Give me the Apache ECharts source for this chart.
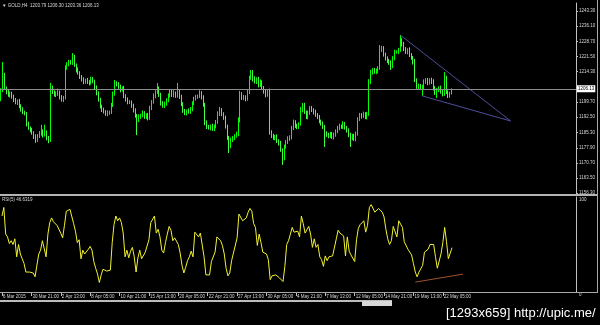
<!DOCTYPE html>
<html><head><meta charset="utf-8">
<script src="https://cdn.jsdelivr.net/npm/echarts@6/dist/echarts.min.js"></script>
<style>html,body{margin:0;padding:0;background:#000;}#c{width:600px;height:325px;}</style>
</head><body><div id="c"></div>
<script>
const symbolName = 'GOLD,H4';
const indicatorName = 'RSI(5)';

const opens = [1201.0,1205.5,1212.7,1206.5,1204.6,1203.2,1204.1,1202.2,1200.8,1199.3,
1200.3,1197.9,1196.0,1195.0,1194.1,1189.3,1187.4,1186.4,1185.0,1183.1,
1181.6,1183.6,1184.5,1185.9,1184.0,1185.5,1182.6,1181.6,1206.5,1204.6,
1203.2,1203.6,1204.6,1202.2,1200.8,1201.7,1216.1,1218.0,1218.9,1218.5,
1221.3,1217.5,1215.1,1213.7,1211.8,1210.3,1209.4,1210.3,1209.4,1208.9,
1210.8,1209.8,1206.5,1204.1,1200.8,1197.9,1196.0,1195.0,1194.1,1194.5,
1195.0,1198.4,1203.6,1208.9,1208.4,1207.0,1205.5,1206.5,1202.7,1200.8,
1199.8,1199.8,1197.9,1196.0,1193.1,1191.2,1192.6,1193.6,1194.5,1192.6,
1193.6,1192.2,1196.9,1199.8,1202.7,1204.6,1206.5,1203.2,1199.3,1197.9,
1198.9,1200.8,1202.7,1204.6,1203.2,1204.1,1202.7,1204.6,1202.2,1198.9,
1195.5,1194.5,1195.5,1195.0,1196.5,1199.3,1201.2,1202.2,1202.7,1204.1,
1202.2,1198.4,1189.8,1187.9,1187.4,1188.3,1186.9,1188.3,1190.2,1194.1,
1196.0,1194.1,1192.2,1188.3,1182.6,1178.8,1181.6,1182.6,1183.6,1184.5,
1191.2,1203.6,1201.7,1202.2,1201.2,1204.6,1211.3,1214.1,1210.8,1209.4,
1210.8,1207.9,1209.4,1206.5,1204.6,1203.2,1204.6,1185.5,1183.6,1182.6,
1183.1,1181.2,1180.2,1176.9,1173.0,1178.3,1180.7,1182.1,1183.1,1187.4,
1190.2,1188.3,1187.9,1189.3,1196.0,1198.4,1195.0,1192.6,1194.5,1196.9,
1196.0,1195.0,1193.6,1192.6,1190.7,1189.3,1187.9,1185.0,1184.0,1183.6,
1184.5,1183.1,1184.0,1185.9,1187.4,1188.3,1187.9,1189.3,1187.4,1186.4,
1184.0,1182.6,1183.6,1182.1,1184.5,1191.7,1193.6,1193.1,1194.1,1192.6,
1194.1,1209.4,1214.1,1215.1,1214.1,1214.6,1216.1,1224.7,1225.6,1222.3,
1220.8,1219.4,1218.5,1217.0,1220.8,1223.7,1223.7,1224.7,1229.4,1227.5,
1225.1,1223.7,1224.7,1222.3,1220.8,1218.9,1210.3,1207.0,1207.5,1206.5,
1207.0,1209.4,1210.3,1208.9,1210.3,1209.4,1206.5,1204.1,1205.5,1206.5,
1204.6,1203.6,1211.3,1204.6,1202.7,1203.79];

const closes = [1205.5,1212.7,1206.5,1204.6,1203.2,1204.1,1202.2,1200.8,1199.3,1200.3,
1197.9,1196.0,1195.0,1194.1,1189.3,1187.4,1186.4,1185.0,1183.1,1181.6,
1183.6,1184.5,1185.9,1184.0,1185.5,1182.6,1181.6,1206.5,1204.6,1203.2,
1203.6,1204.6,1202.2,1200.8,1201.7,1216.1,1218.0,1218.9,1218.5,1221.3,
1217.5,1215.1,1213.7,1211.8,1210.3,1209.4,1210.3,1209.4,1208.9,1210.8,
1209.8,1206.5,1204.1,1200.8,1197.9,1196.0,1195.0,1194.1,1194.5,1195.0,
1198.4,1203.6,1208.9,1208.4,1207.0,1205.5,1206.5,1202.7,1200.8,1199.8,
1199.8,1197.9,1196.0,1193.1,1191.2,1192.6,1193.6,1194.5,1192.6,1193.6,
1192.2,1196.9,1199.8,1202.7,1204.6,1206.5,1203.2,1199.3,1197.9,1198.9,
1200.8,1202.7,1204.6,1203.2,1204.1,1202.7,1204.6,1202.2,1198.9,1195.5,
1194.5,1195.5,1195.0,1196.5,1199.3,1201.2,1202.2,1202.7,1204.1,1202.2,
1198.4,1189.8,1187.9,1187.4,1188.3,1186.9,1188.3,1190.2,1194.1,1196.0,
1194.1,1192.2,1188.3,1182.6,1178.8,1181.6,1182.6,1183.6,1184.5,1191.2,
1203.6,1201.7,1202.2,1201.2,1204.6,1211.3,1214.1,1210.8,1209.4,1210.8,
1207.9,1209.4,1206.5,1204.6,1203.2,1204.6,1185.5,1183.6,1182.6,1183.1,
1181.2,1180.2,1176.9,1173.0,1178.3,1180.7,1182.1,1183.1,1187.4,1190.2,
1188.3,1187.9,1189.3,1196.0,1198.4,1195.0,1192.6,1194.5,1196.9,1196.0,
1195.0,1193.6,1192.6,1190.7,1189.3,1187.9,1185.0,1184.0,1183.6,1184.5,
1183.1,1184.0,1185.9,1187.4,1188.3,1187.9,1189.3,1187.4,1186.4,1184.0,
1182.6,1183.6,1182.1,1184.5,1191.7,1193.6,1193.1,1194.1,1192.6,1194.1,
1209.4,1214.1,1215.1,1214.1,1214.6,1216.1,1224.7,1225.6,1222.3,1220.8,
1219.4,1218.5,1217.0,1220.8,1223.7,1223.7,1224.7,1229.4,1227.5,1225.1,
1223.7,1224.7,1222.3,1220.8,1218.9,1210.3,1207.0,1207.5,1206.5,1207.0,
1209.4,1210.3,1208.9,1210.3,1209.4,1206.5,1204.1,1205.5,1206.5,1204.6,
1203.6,1211.3,1204.6,1202.7,1203.79,1206.13];

const upWick = [0.9,6.2,1.0,0.7,1.2,0.8,0.6,1.1,0.9,0.7,
1.0,0.8,1.3,0.6,0.9,1.1,0.7,1.0,0.8,1.2,
0.9,1.4,3.0,0.8,3.5,0.7,1.0,2.4,1.1,0.8,
1.3,1.6,0.7,0.9,1.0,1.2,0.8,1.1,0.9,1.9,
1.0,0.7,1.2,0.8,0.9,1.3,0.6,1.0,0.8,1.1,
0.9,0.7,1.2,0.8,1.0,0.6,1.1,0.9,1.3,0.7,
1.0,1.2,1.4,0.8,0.9,1.1,0.7,1.0,0.8,1.2,
0.9,0.7,1.1,0.8,1.0,1.3,0.6,1.2,0.9,0.8,
1.0,1.1,0.9,1.2,0.8,2.4,0.7,1.0,0.9,1.1,
0.8,1.2,0.9,1.0,1.3,0.7,4.3,0.9,1.1,0.8,
1.0,0.7,1.2,0.9,0.8,1.1,1.0,0.7,1.3,0.9,
0.8,1.0,1.2,0.9,0.7,1.1,0.8,1.0,1.2,1.4,
0.9,0.8,1.1,0.7,1.0,1.2,0.9,0.8,1.1,1.3,
1.5,0.9,1.0,0.8,1.2,1.1,1.0,0.9,1.3,0.8,
1.0,1.2,0.7,0.9,1.1,1.0,1.6,0.8,1.0,0.9,
1.2,0.8,1.0,0.7,1.1,0.9,1.3,0.8,1.0,1.2,
0.9,1.1,0.8,1.4,0.9,1.0,0.7,1.2,0.9,1.0,
0.8,1.1,0.9,1.0,0.7,1.2,0.9,0.8,1.1,1.0,
0.9,1.2,0.8,1.0,1.1,0.7,1.3,0.9,1.0,0.8,
1.1,0.9,1.0,1.2,0.8,1.0,0.9,1.1,0.8,1.0,
1.3,1.1,0.9,1.0,1.2,0.8,2.3,1.0,0.9,1.1,
0.8,1.0,1.2,0.9,1.1,0.8,1.0,2.4,0.9,1.1,
1.0,0.8,1.2,0.9,1.0,1.5,0.8,1.1,0.9,1.0,
1.2,0.9,1.0,0.8,1.1,1.3,0.9,1.0,0.8,1.1,
0.9,2.8,1.0,0.8,0.9,0.17];

const downWick = [0.8,1.0,0.7,1.1,0.9,1.2,0.8,1.0,0.6,0.9,
1.1,0.8,1.0,0.7,1.2,0.9,1.1,0.8,1.0,1.3,
0.9,1.0,0.8,1.2,0.7,1.1,1.5,0.9,1.0,0.8,
1.1,0.9,1.2,0.8,1.0,0.7,0.9,1.1,0.8,1.0,
0.9,1.2,0.8,1.0,0.7,1.1,0.9,1.0,1.2,0.8,
1.0,0.9,1.1,0.8,1.2,1.0,0.7,0.9,1.1,0.8,
0.9,1.0,0.8,1.2,0.9,1.1,0.7,1.0,0.8,1.1,
1.0,0.9,1.2,0.8,7.2,1.0,0.9,1.1,0.8,1.0,
1.2,0.9,1.0,0.8,1.1,0.9,1.0,1.2,0.8,1.0,
0.9,1.1,0.8,1.0,1.2,0.9,0.8,1.0,1.1,0.9,
1.0,1.2,0.8,0.9,1.1,1.0,0.7,0.9,1.0,1.2,
0.9,1.1,1.0,0.8,1.2,0.9,1.0,1.1,0.8,1.0,
1.1,0.9,1.2,1.0,3.4,1.1,0.9,1.0,0.8,1.0,
1.2,0.9,1.0,1.1,0.8,1.0,0.9,1.2,0.8,1.0,
1.1,0.9,1.0,0.8,1.2,0.9,1.3,1.0,0.9,1.1,
1.0,1.2,0.9,3.3,1.1,0.8,1.0,0.9,1.2,1.0,
0.9,1.1,1.0,0.8,1.2,0.9,1.0,1.1,0.8,1.0,
1.2,0.9,1.0,1.1,0.8,1.0,6.7,0.9,1.1,1.0,
0.9,1.2,0.8,1.0,1.1,0.9,1.0,0.8,1.2,1.0,
4.3,1.0,0.9,1.1,0.8,1.0,1.2,0.9,1.0,1.1,
0.9,1.0,1.2,0.8,1.0,1.1,0.9,1.0,0.8,1.2,
1.0,0.9,1.9,1.0,1.1,0.8,1.0,0.9,1.2,1.0,
0.9,1.1,1.0,0.8,1.2,1.0,0.9,1.1,1.0,3.8,
1.0,0.9,1.1,0.8,1.0,1.2,0.9,2.4,1.0,0.8,
1.1,0.9,1.0,1.0,0.9,0.43];

const rsiValues = [80,89,61,58,51,54,50,56,37,50,
40,35,30,21,21,21,23,20,16,14,
40,44,54,55,37,61,73,78,74,72,
70,68,62,57,70,85,87,87,86,72,
64,52,55,35,44,40,40,45,48,44,
32,25,19,10,18,24,23,22,22,23,
52,71,80,75,78,73,62,37,44,36,
43,47,37,21,36,44,35,37,42,42,
55,73,75,80,62,66,58,44,41,52,
61,69,65,54,57,58,50,41,28,20,
26,33,37,43,37,63,65,58,62,61,
37,18,18,18,32,32,42,58,57,54,
49,40,25,17,20,33,41,42,57,82,
80,75,75,78,84,88,85,72,68,49,
61,52,42,40,40,34,13,17,19,18,
17,15,14,11,27,50,54,54,68,63,
63,64,58,80,72,62,63,69,61,47,
56,47,50,37,34,27,38,33,37,35,
38,37,56,65,62,60,59,38,58,43,
39,38,32,55,67,71,73,75,63,70,
89,92,90,84,85,88,90,84,79,66,
56,50,54,69,70,58,75,75,68,53,
55,45,45,39,30,21,16,21,21,28,
42,44,45,50,49,50,37,25,25,40,
52,68,53,35,37,46.6319];

const priceTicks = [1243.30,1236.10,1228.70,1221.50,1214.30,1199.70,1192.50,1185.30,1177.90,1170.70,1163.50,1156.30];
const rsiTicks = [100, 0];
const dateLabels = ['6 Mar 2015','30 Mar 21:00','2 Apr 13:00','8 Apr 05:00','10 Apr 21:00','15 Apr 13:00','20 Apr 05:00','22 Apr 21:00','27 Apr 13:00','30 Apr 05:00','4 May 21:00','7 May 13:00','12 May 05:00','14 May 21:00','19 May 13:00','22 May 05:00'];
const dateLabelBars = [0,16,32,48,64,80,96,112,128,144,160,176,192,208,224,240];

const upperTrend = [[217, 1231.8], [277, 1190.7]];
const lowerTrend = [[229, 1202.7], [277, 1190.7]];
const rsiTrend = [[225, 10.4], [251, 18.8]];

const SLOTS = 313;
const slotIds = Array.from({length: SLOTS}, (_, i) => String(i));
const labelAt = {};
dateLabelBars.forEach((b, k) => { labelAt[b] = dateLabels[k]; });

const candles = closes.map((c, i) => {
  const o = opens[i];
  return [o, c, Math.min(o, c) - downWick[i], Math.max(o, c) + upWick[i]];
});
const last = candles[candles.length - 1];
const lastClose = closes[closes.length - 1];
const headerText = '▼ ' + symbolName + '  ' + last[0].toFixed(2) + ' ' + last[3].toFixed(2) + ' ' + last[2].toFixed(2) + ' ' + last[1].toFixed(2);
const rsiText = indicatorName + ' ' + rsiValues[rsiValues.length - 1].toFixed(4);

const TXT = '#d8d8d8';
const FONT = 'Liberation Sans';
const showLabel = (idx) => labelAt[idx] !== undefined;

const chart = echarts.init(document.getElementById('c'), null, {renderer: 'canvas'});
chart.setOption({
  backgroundColor: '#000000',
  animation: false,
  textStyle: {fontFamily: FONT},
  grid: [
    {left: 0, top: 3, width: 576, height: 191},
    {left: 0, top: 197, width: 576, height: 95}
  ],
  xAxis: [
    {type: 'category', gridIndex: 0, data: slotIds, boundaryGap: true, show: false},
    {type: 'category', gridIndex: 1, data: slotIds, boundaryGap: true,
     axisLine: {show: false},
     axisTick: {show: true, alignWithLabel: true, interval: showLabel, length: 4, lineStyle: {color: '#c0c0c0', width: 1}},
     axisLabel: {interval: showLabel, formatter: (v, idx) => labelAt[idx] || '', align: 'left', fontSize: 4.5, color: TXT, margin: 2, padding: [0, 0, 0, 1], fontFamily: FONT},
     splitLine: {show: false}}
  ],
  yAxis: [
    {type: 'value', gridIndex: 0, position: 'right', min: 1155.82, max: 1247.12,
     splitLine: {show: false},
     axisLine: {show: true, lineStyle: {color: '#c0c0c0', width: 1}},
     axisTick: {show: true, customValues: priceTicks, length: 2, lineStyle: {color: '#c0c0c0'}},
     axisLabel: {customValues: priceTicks, formatter: v => Number(v).toFixed(2), fontSize: 4.5, color: TXT, margin: 3, fontFamily: FONT}},
    {type: 'value', gridIndex: 1, position: 'right', min: 0, max: 100,
     splitLine: {show: false},
     axisLine: {show: true, lineStyle: {color: '#c0c0c0', width: 1}},
     axisTick: {show: false},
     axisLabel: {customValues: rsiTicks, fontSize: 4.5, color: TXT, margin: 3, verticalAlign: 'top', fontFamily: FONT}}
  ],
  series: [
    {type: 'candlestick', xAxisIndex: 0, yAxisIndex: 0, data: candles, barWidth: 1,
     itemStyle: {color: '#00b800', color0: '#9cff9c', borderColor: '#00ff00', borderColor0: '#40ff40', borderWidth: 1},
     markLine: {silent: true, symbol: ['none', 'none'], animation: false,
       data: [{yAxis: lastClose}],
       lineStyle: {color: '#8c8c8c', width: 1, type: 'solid'},
       label: {show: true, position: 'end', distance: 1, formatter: lastClose.toFixed(2), backgroundColor: '#ffffff', color: '#000000', fontSize: 4.5, padding: [1, 1, 1, 1], fontFamily: FONT}}},
    {type: 'line', xAxisIndex: 0, yAxisIndex: 0, data: upperTrend, symbol: 'none', silent: true,
     lineStyle: {color: '#4e4e9c', width: 1}},
    {type: 'line', xAxisIndex: 0, yAxisIndex: 0, data: lowerTrend, symbol: 'none', silent: true,
     lineStyle: {color: '#4e4e9c', width: 1}},
    {type: 'line', xAxisIndex: 1, yAxisIndex: 1, data: rsiValues, symbol: 'none', silent: true,
     lineStyle: {color: '#f2f230', width: 1}},
    {type: 'line', xAxisIndex: 1, yAxisIndex: 1, data: rsiTrend, symbol: 'none', silent: true,
     lineStyle: {color: '#a0522d', width: 1}}
  ],
  graphic: [
    {type: 'text', left: 2, top: 3, z: 100, style: {text: headerText, fill: TXT, fontSize: 4.5, fontFamily: FONT}},
    {type: 'text', left: 2, top: 197, z: 100, style: {text: rsiText, fill: TXT, fontSize: 4.5, fontFamily: FONT}},
    {type: 'rect', z: 90, shape: {x: 0, y: 194, width: 597, height: 2}, style: {fill: '#b4b4b4'}},
    {type: 'rect', z: 90, shape: {x: 0, y: 292, width: 597, height: 1}, style: {fill: '#a8a8a8'}},
    {type: 'rect', z: 90, shape: {x: 597, y: 0, width: 1, height: 293}, style: {fill: '#a8a8a8'}},
    {type: 'rect', z: 90, shape: {x: 0, y: 300, width: 392, height: 2}, style: {fill: '#bcbcbc'}},
    {type: 'rect', z: 90, shape: {x: 362, y: 301, width: 30, height: 5}, style: {fill: '#d8d8d8'}},
    {type: 'text', left: 446, top: 307, z: 100, style: {text: '[1293x659] http://upic.me/', fill: '#ffffff', fontSize: 13, fontFamily: FONT}}
  ]
});
</script>
</body></html>
